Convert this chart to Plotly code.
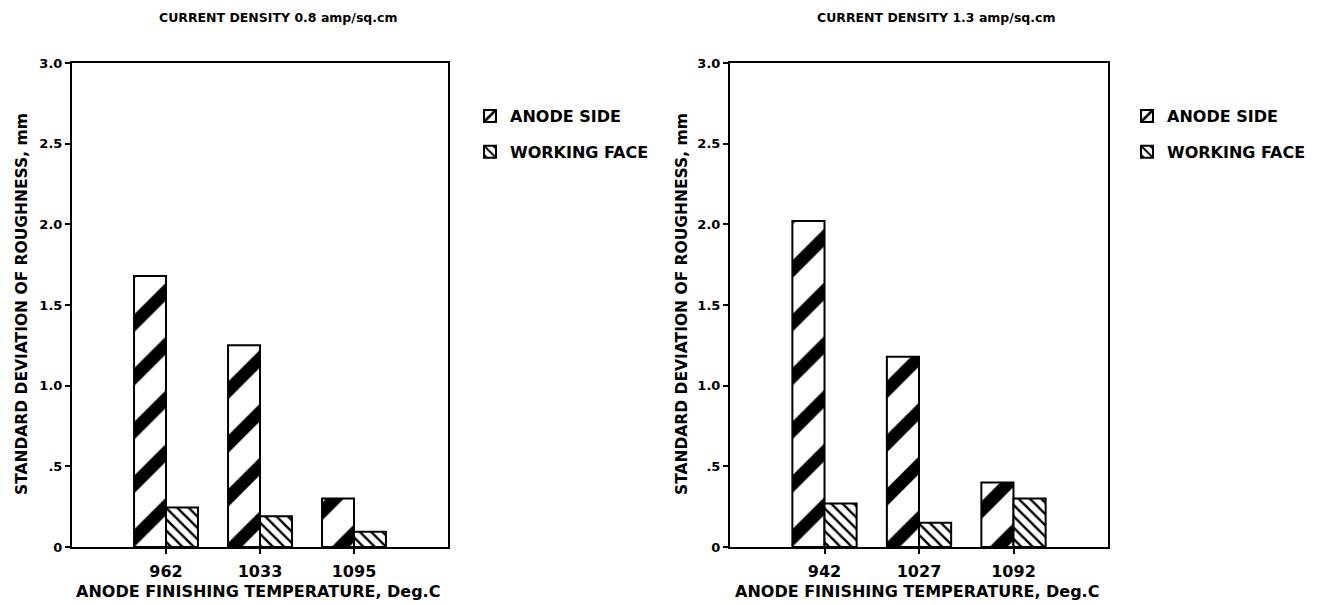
import plotly.graph_objects as go

# ---- data ----
temps_left = ["962", "1033", "1095"]
temps_right = ["942", "1027", "1092"]
anode_left = [1.68, 1.25, 0.30]
face_left = [0.245, 0.19, 0.095]
anode_right = [2.02, 1.18, 0.40]
face_right = [0.27, 0.15, 0.30]
ytick_vals = [0, 0.5, 1.0, 1.5, 2.0, 2.5, 3.0]
ytick_text = ["0", ".5", "1.0", "1.5", "2.0", "2.5", "3.0"]
title_left = "CURRENT DENSITY 0.8 amp/sq.cm"
title_right = "CURRENT DENSITY 1.3 amp/sq.cm"
xtitle = "ANODE FINISHING TEMPERATURE, Deg.C"
ytitle = "STANDARD DEVIATION OF ROUGHNESS, mm"

FONT = "DejaVu Sans"
W, H = 1319, 605

anode_pattern = dict(shape="/", fgcolor="black", bgcolor="white", size=38, solidity=0.33, fillmode="replace")
face_pattern = dict(shape="\\", fgcolor="black", bgcolor="white", size=8, solidity=0.3, fillmode="replace")
line = dict(color="black", width=2)

fig = go.Figure()
pos = [1, 2, 3]
fig.add_trace(go.Bar(x=pos, y=anode_left, name="ANODE SIDE", marker=dict(color="white", pattern=anode_pattern, line=line),
                     xaxis="x", yaxis="y", legend="legend", legendgroup="a", offsetgroup="a"))
fig.add_trace(go.Bar(x=pos, y=face_left, name="WORKING FACE", marker=dict(color="white", pattern=face_pattern, line=line),
                     xaxis="x", yaxis="y", legend="legend", legendgroup="b", offsetgroup="b"))
fig.add_trace(go.Bar(x=pos, y=anode_right, name="ANODE SIDE", marker=dict(color="white", pattern=anode_pattern, line=line),
                     xaxis="x2", yaxis="y2", legend="legend2", legendgroup="c", offsetgroup="a"))
fig.add_trace(go.Bar(x=pos, y=face_right, name="WORKING FACE", marker=dict(color="white", pattern=face_pattern, line=line),
                     xaxis="x2", yaxis="y2", legend="legend2", legendgroup="d", offsetgroup="b"))

ydom = [1 - 547 / H, 1 - 63 / H]

def xaxis(dom, labels, anchor):
    return dict(domain=dom, range=[0, 4], tickvals=pos, ticktext=labels, ticks="outside", ticklen=5,
                tickwidth=2, tickcolor="black", showline=True, linecolor="black", linewidth=2, mirror=True,
                showgrid=False, zeroline=False, anchor=anchor, ticklabelstandoff=4,
                tickfont=dict(family=FONT, size=16, color="black", weight="bold"), automargin=False)

def yaxis(anchor):
    return dict(domain=ydom, range=[0, 3], tickvals=ytick_vals, ticktext=ytick_text, ticks="outside", ticklen=5,
                tickwidth=2, tickcolor="black", showline=True, linecolor="black", linewidth=2, mirror=True,
                showgrid=False, zeroline=False, anchor=anchor,
                tickfont=dict(family=FONT, size=13, color="black", weight="bold"), automargin=False)

legend_common = dict(font=dict(family=FONT, size=16, color="black", weight="bold"), bgcolor="rgba(0,0,0,0)",
                     tracegroupgap=12, xanchor="left", yanchor="top", traceorder="grouped")

fig.update_layout(
    width=W, height=H,
    margin=dict(l=0, r=0, t=0, b=0),
    paper_bgcolor="white", plot_bgcolor="white",
    barmode="group", bargap=0.32, bargroupgap=0,
    xaxis=xaxis([72 / W, 448 / W], temps_left, "y"),
    yaxis=yaxis("x"),
    xaxis2=xaxis([730 / W, 1108 / W], temps_right, "y2"),
    yaxis2=yaxis("x2"),
    legend=dict(x=470 / W, y=1 - 99 / H, **legend_common),
    legend2=dict(x=1127 / W, y=1 - 99 / H, **legend_common),
    showlegend=True,
)

ann_font = dict(family=FONT, color="black", weight="bold")
annots = [
    dict(text=title_left, x=278 / W, y=1 - 18 / H, size=12.5),
    dict(text=title_right, x=936 / W, y=1 - 18 / H, size=12.5),
    dict(text=xtitle, x=258 / W, y=1 - 591 / H, size=16),
    dict(text=xtitle, x=917 / W, y=1 - 591 / H, size=16),
]
for a in annots:
    fig.add_annotation(text=a["text"], x=a["x"], y=a["y"], xref="paper", yref="paper", showarrow=False,
                       xanchor="center", yanchor="middle", font=dict(size=a["size"], **ann_font))
for xc in [22, 682]:
    fig.add_annotation(text=ytitle, x=xc / W, y=1 - 304 / H, xref="paper", yref="paper", showarrow=False,
                       textangle=-90, xanchor="center", yanchor="middle", font=dict(size=15.5, **ann_font))

fig.write_html("out.html")
